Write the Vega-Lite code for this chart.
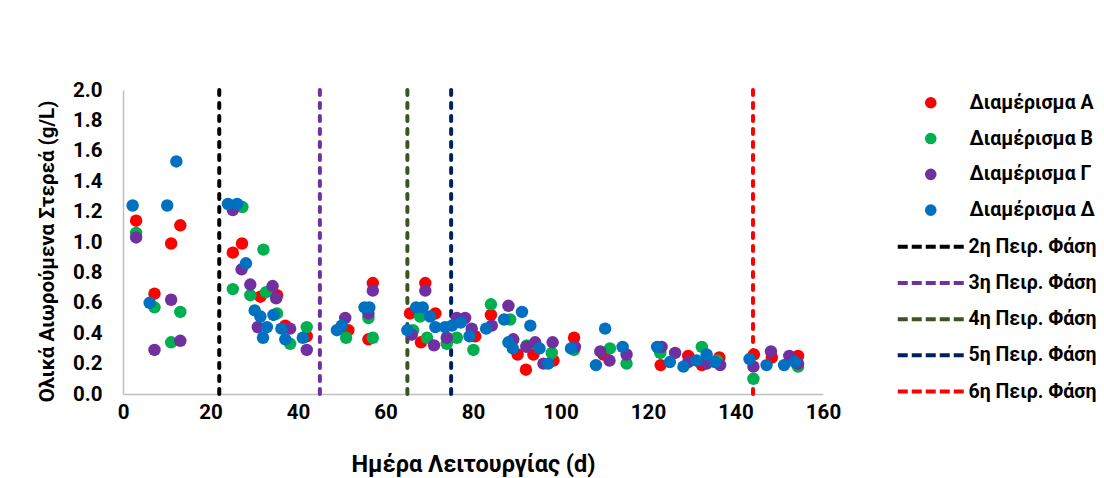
{
"$schema": "https://vega.github.io/schema/vega-lite/v6.json",
"width": 700, "height": 304,
"autosize": {"type": "none"},
"padding": {"left": 123, "top": 90, "right": 281, "bottom": 84},
"background": "white",
"config": {"view": {"stroke": null}, "font": "Roboto"},
"datasets": {
"phases": [
{"d": 22, "p": "2η Πειρ. Φάση"},
{"d": 45, "p": "3η Πειρ. Φάση"},
{"d": 65, "p": "4η Πειρ. Φάση"},
{"d": 75, "p": "5η Πειρ. Φάση"},
{"d": 144, "p": "6η Πειρ. Φάση"}
],
"pts": [
{"s":"Διαμέρισμα Α","d":3.0,"v":1.14},{"s":"Διαμέρισμα Α","d":7.2,"v":0.66},{"s":"Διαμέρισμα Α","d":11.0,"v":0.99},{"s":"Διαμέρισμα Α","d":13.1,"v":1.11},
{"s":"Διαμέρισμα Α","d":25.1,"v":0.93},{"s":"Διαμέρισμα Α","d":27.2,"v":0.99},{"s":"Διαμέρισμα Α","d":31.4,"v":0.64},{"s":"Διαμέρισμα Α","d":35.2,"v":0.65},
{"s":"Διαμέρισμα Α","d":37.1,"v":0.45},{"s":"Διαμέρισμα Α","d":42.0,"v":0.38},{"s":"Διαμέρισμα Α","d":51.5,"v":0.42},{"s":"Διαμέρισμα Α","d":57.1,"v":0.73},
{"s":"Διαμέρισμα Α","d":56.1,"v":0.36},{"s":"Διαμέρισμα Α","d":65.6,"v":0.53},{"s":"Διαμέρισμα Α","d":69.1,"v":0.73},{"s":"Διαμέρισμα Α","d":71.4,"v":0.53},
{"s":"Διαμέρισμα Α","d":68.1,"v":0.34},{"s":"Διαμέρισμα Α","d":80.5,"v":0.38},{"s":"Διαμέρισμα Α","d":84.1,"v":0.52},{"s":"Διαμέρισμα Α","d":90.2,"v":0.26},
{"s":"Διαμέρισμα Α","d":92.1,"v":0.16},{"s":"Διαμέρισμα Α","d":93.8,"v":0.26},{"s":"Διαμέρισμα Α","d":98.4,"v":0.22},{"s":"Διαμέρισμα Α","d":103.1,"v":0.37},
{"s":"Διαμέρισμα Α","d":109.8,"v":0.26},{"s":"Διαμέρισμα Α","d":122.9,"v":0.19},{"s":"Διαμέρισμα Α","d":129.2,"v":0.25},{"s":"Διαμέρισμα Α","d":132.3,"v":0.19},
{"s":"Διαμέρισμα Α","d":136.3,"v":0.24},{"s":"Διαμέρισμα Α","d":144.2,"v":0.26},{"s":"Διαμέρισμα Α","d":148.3,"v":0.24},{"s":"Διαμέρισμα Α","d":154.3,"v":0.25},
{"s":"Διαμέρισμα Β","d":3.0,"v":1.06},{"s":"Διαμέρισμα Β","d":7.2,"v":0.57},{"s":"Διαμέρισμα Β","d":11.0,"v":0.34},{"s":"Διαμέρισμα Β","d":13.1,"v":0.54},
{"s":"Διαμέρισμα Β","d":27.3,"v":1.23},{"s":"Διαμέρισμα Β","d":32.1,"v":0.95},{"s":"Διαμέρισμα Β","d":25.1,"v":0.69},{"s":"Διαμέρισμα Β","d":29.1,"v":0.65},
{"s":"Διαμέρισμα Β","d":32.7,"v":0.67},{"s":"Διαμέρισμα Β","d":35.2,"v":0.53},{"s":"Διαμέρισμα Β","d":38.2,"v":0.33},{"s":"Διαμέρισμα Β","d":42.0,"v":0.44},
{"s":"Διαμέρισμα Β","d":51.0,"v":0.37},{"s":"Διαμέρισμα Β","d":56.1,"v":0.50},{"s":"Διαμέρισμα Β","d":57.1,"v":0.37},{"s":"Διαμέρισμα Β","d":66.3,"v":0.42},
{"s":"Διαμέρισμα Β","d":67.9,"v":0.51},{"s":"Διαμέρισμα Β","d":69.5,"v":0.37},{"s":"Διαμέρισμα Β","d":74.0,"v":0.33},{"s":"Διαμέρισμα Β","d":76.3,"v":0.37},
{"s":"Διαμέρισμα Β","d":80.1,"v":0.29},{"s":"Διαμέρισμα Β","d":84.1,"v":0.59},{"s":"Διαμέρισμα Β","d":88.5,"v":0.49},{"s":"Διαμέρισμα Β","d":92.3,"v":0.32},
{"s":"Διαμέρισμα Β","d":98.0,"v":0.27},{"s":"Διαμέρισμα Β","d":103.1,"v":0.29},{"s":"Διαμέρισμα Β","d":111.3,"v":0.30},{"s":"Διαμέρισμα Β","d":115.1,"v":0.20},
{"s":"Διαμέρισμα Β","d":122.8,"v":0.27},{"s":"Διαμέρισμα Β","d":132.3,"v":0.31},{"s":"Διαμέρισμα Β","d":135.8,"v":0.22},{"s":"Διαμέρισμα Β","d":144.1,"v":0.10},
{"s":"Διαμέρισμα Β","d":154.3,"v":0.18},
{"s":"Διαμέρισμα Γ","d":3.0,"v":1.03},{"s":"Διαμέρισμα Γ","d":7.2,"v":0.29},{"s":"Διαμέρισμα Γ","d":11.0,"v":0.62},{"s":"Διαμέρισμα Γ","d":13.1,"v":0.35},
{"s":"Διαμέρισμα Γ","d":25.1,"v":1.21},{"s":"Διαμέρισμα Γ","d":27.1,"v":0.82},{"s":"Διαμέρισμα Γ","d":29.1,"v":0.72},{"s":"Διαμέρισμα Γ","d":34.2,"v":0.71},
{"s":"Διαμέρισμα Γ","d":35.0,"v":0.63},{"s":"Διαμέρισμα Γ","d":30.8,"v":0.44},{"s":"Διαμέρισμα Γ","d":38.2,"v":0.43},{"s":"Διαμέρισμα Γ","d":42.0,"v":0.29},
{"s":"Διαμέρισμα Γ","d":50.8,"v":0.50},{"s":"Διαμέρισμα Γ","d":57.1,"v":0.68},{"s":"Διαμέρισμα Γ","d":56.1,"v":0.53},{"s":"Διαμέρισμα Γ","d":66.0,"v":0.39},
{"s":"Διαμέρισμα Γ","d":69.1,"v":0.68},{"s":"Διαμέρισμα Γ","d":71.1,"v":0.32},{"s":"Διαμέρισμα Γ","d":74.0,"v":0.37},{"s":"Διαμέρισμα Γ","d":76.3,"v":0.50},
{"s":"Διαμέρισμα Γ","d":78.2,"v":0.50},{"s":"Διαμέρισμα Γ","d":79.7,"v":0.43},{"s":"Διαμέρισμα Γ","d":84.3,"v":0.45},{"s":"Διαμέρισμα Γ","d":88.1,"v":0.58},
{"s":"Διαμέρισμα Γ","d":89.2,"v":0.36},{"s":"Διαμέρισμα Γ","d":92.2,"v":0.31},{"s":"Διαμέρισμα Γ","d":94.2,"v":0.34},{"s":"Διαμέρισμα Γ","d":96.1,"v":0.20},
{"s":"Διαμέρισμα Γ","d":98.2,"v":0.34},{"s":"Διαμέρισμα Γ","d":103.3,"v":0.31},{"s":"Διαμέρισμα Γ","d":109.1,"v":0.28},{"s":"Διαμέρισμα Γ","d":111.2,"v":0.22},
{"s":"Διαμέρισμα Γ","d":115.1,"v":0.26},{"s":"Διαμέρισμα Γ","d":123.1,"v":0.31},{"s":"Διαμέρισμα Γ","d":126.2,"v":0.27},{"s":"Διαμέρισμα Γ","d":129.2,"v":0.21},
{"s":"Διαμέρισμα Γ","d":133.4,"v":0.20},{"s":"Διαμέρισμα Γ","d":136.5,"v":0.19},{"s":"Διαμέρισμα Γ","d":144.1,"v":0.18},{"s":"Διαμέρισμα Γ","d":148.1,"v":0.28},
{"s":"Διαμέρισμα Γ","d":152.3,"v":0.25},{"s":"Διαμέρισμα Γ","d":154.3,"v":0.20},
{"s":"Διαμέρισμα Δ","d":2.2,"v":1.24},{"s":"Διαμέρισμα Δ","d":6.1,"v":0.60},{"s":"Διαμέρισμα Δ","d":10.1,"v":1.24},{"s":"Διαμέρισμα Δ","d":12.2,"v":1.53},
{"s":"Διαμέρισμα Δ","d":24.0,"v":1.25},{"s":"Διαμέρισμα Δ","d":26.1,"v":1.25},{"s":"Διαμέρισμα Δ","d":28.1,"v":0.86},{"s":"Διαμέρισμα Δ","d":30.1,"v":0.55},
{"s":"Διαμέρισμα Δ","d":31.4,"v":0.51},{"s":"Διαμέρισμα Δ","d":34.4,"v":0.52},{"s":"Διαμέρισμα Δ","d":32.9,"v":0.44},{"s":"Διαμέρισμα Δ","d":36.2,"v":0.43},
{"s":"Διαμέρισμα Δ","d":32.0,"v":0.37},{"s":"Διαμέρισμα Δ","d":37.1,"v":0.36},{"s":"Διαμέρισμα Δ","d":41.1,"v":0.37},{"s":"Διαμέρισμα Δ","d":48.9,"v":0.42},
{"s":"Διαμέρισμα Δ","d":50.0,"v":0.45},{"s":"Διαμέρισμα Δ","d":55.2,"v":0.57},{"s":"Διαμέρισμα Δ","d":56.3,"v":0.57},{"s":"Διαμέρισμα Δ","d":65.0,"v":0.42},
{"s":"Διαμέρισμα Δ","d":67.0,"v":0.57},{"s":"Διαμέρισμα Δ","d":68.5,"v":0.57},{"s":"Διαμέρισμα Δ","d":70.2,"v":0.51},{"s":"Διαμέρισμα Δ","d":71.4,"v":0.44},
{"s":"Διαμέρισμα Δ","d":73.6,"v":0.44},{"s":"Διαμέρισμα Δ","d":75.2,"v":0.45},{"s":"Διαμέρισμα Δ","d":77.2,"v":0.47},{"s":"Διαμέρισμα Δ","d":79.2,"v":0.38},
{"s":"Διαμέρισμα Δ","d":83.0,"v":0.43},{"s":"Διαμέρισμα Δ","d":87.1,"v":0.49},{"s":"Διαμέρισμα Δ","d":91.2,"v":0.54},{"s":"Διαμέρισμα Δ","d":93.1,"v":0.45},
{"s":"Διαμέρισμα Δ","d":88.1,"v":0.34},{"s":"Διαμέρισμα Δ","d":89.1,"v":0.30},{"s":"Διαμέρισμα Δ","d":95.2,"v":0.30},{"s":"Διαμέρισμα Δ","d":97.2,"v":0.20},
{"s":"Διαμέρισμα Δ","d":102.4,"v":0.30},{"s":"Διαμέρισμα Δ","d":110.2,"v":0.43},{"s":"Διαμέρισμα Δ","d":108.1,"v":0.19},{"s":"Διαμέρισμα Δ","d":114.2,"v":0.31},
{"s":"Διαμέρισμα Δ","d":122.1,"v":0.31},{"s":"Διαμέρισμα Δ","d":125.0,"v":0.21},{"s":"Διαμέρισμα Δ","d":128.1,"v":0.18},{"s":"Διαμέρισμα Δ","d":131.1,"v":0.22},
{"s":"Διαμέρισμα Δ","d":133.4,"v":0.26},{"s":"Διαμέρισμα Δ","d":135.3,"v":0.21},{"s":"Διαμέρισμα Δ","d":143.2,"v":0.23},{"s":"Διαμέρισμα Δ","d":147.1,"v":0.19},
{"s":"Διαμέρισμα Δ","d":151.1,"v":0.19},{"s":"Διαμέρισμα Δ","d":153.6,"v":0.21}
]
},
"layer": [
{
"data": {"name": "phases"},
"mark": {"type": "rule", "strokeWidth": 4, "strokeDash": [5, 8], "strokeCap": "round"},
"encoding": {
"x": {"field": "d", "type": "quantitative", "scale": {"domain": [0, 160], "nice": false}},
"stroke": {"field": "p", "type": "nominal",
"scale": {"domain": ["2η Πειρ. Φάση", "3η Πειρ. Φάση", "4η Πειρ. Φάση", "5η Πειρ. Φάση", "6η Πειρ. Φάση"], "range": ["#000000", "#7030A0", "#375623", "#002060", "#FF0000"]},
"legend": {"orient": "none", "legendX": 798, "legendY": 147, "title": null, "symbolType": "M-5.5,0H5.5", "symbolSize": 144, "symbolStrokeWidth": 4, "symbolDash": [10, 4], "labelFont": "Roboto", "labelFontSize": 19.5, "labelFontWeight": "bold", "labelColor": "black", "labelOffset": 28, "rowPadding": 15.2, "padding": 0, "labelLimit": 300}
}
}
},
{
"data": {"name": "pts"},
"mark": {"type": "circle", "size": 155, "opacity": 1},
"encoding": {
"x": {"field": "d", "type": "quantitative", "scale": {"domain": [0, 160], "nice": false},
"axis": {"values": [0, 20, 40, 60, 80, 100, 120, 140, 160], "labelFlush": false, "grid": false, "ticks": false, "domainColor": "#BFBFBF", "domainWidth": 1.5, "labelFont": "Roboto", "labelFontSize": 20.5, "labelFontWeight": "bold", "labelColor": "black", "labelPadding": 8, "title": "Ημέρα Λειτουργίας (d)", "titleFont": "Roboto", "titleFontSize": 23.5, "titleFontWeight": "bold", "titleColor": "black", "titlePadding": 30}},
"y": {"field": "v", "type": "quantitative", "scale": {"domain": [0, 2], "nice": false},
"axis": {"values": [0, 0.2, 0.4, 0.6, 0.8, 1.0, 1.2, 1.4, 1.6, 1.8, 2.0], "labelFlush": false, "format": ".1f", "grid": false, "ticks": false, "domainColor": "#BFBFBF", "domainWidth": 1.5, "labelFont": "Roboto", "labelFontSize": 20.5, "labelFontWeight": "bold", "labelColor": "black", "labelPadding": 21, "title": "Ολικά Αιωρούμενα Στερεά (g/L)", "titleFont": "Roboto", "titleFontSize": 20.5, "titleFontWeight": "bold", "titleColor": "black", "titlePadding": 15, "titleY": 161}},
"color": {"field": "s", "type": "nominal",
"scale": {"domain": ["Διαμέρισμα Α", "Διαμέρισμα Β", "Διαμέρισμα Γ", "Διαμέρισμα Δ"], "range": ["#FF0000", "#00B050", "#7030A0", "#0070C0"]},
"legend": {"orient": "none", "legendX": 798, "legendY": 3, "title": null, "symbolType": "circle", "symbolSize": 135, "labelFont": "Roboto", "labelFontSize": 19.5, "labelFontWeight": "bold", "labelColor": "black", "labelOffset": 29, "rowPadding": 14.8, "padding": 0, "symbolOpacity": 1}
}
}
}
]
}
